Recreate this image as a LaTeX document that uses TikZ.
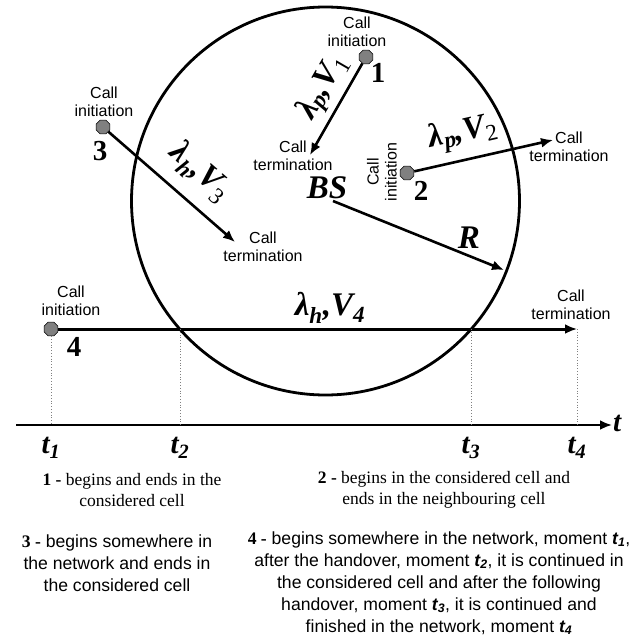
\documentclass[tikz,border=0pt]{standalone}
\usepackage{fontspec}
\setmainfont{Liberation Serif}
\setsansfont{Liberation Sans}
\usepackage{tikz}
\usetikzlibrary{arrows.meta, shapes.geometric}
\newcommand{\callfont}{\sffamily\fontsize{16}{18}\selectfont}
\newcommand{\bigit}{\bfseries\itshape\fontsize{33}{33}\selectfont}
\newcommand{\timeit}{\bfseries\itshape\fontsize{29}{29}\selectfont}
\newcommand{\bignum}{\bfseries\fontsize{29}{29}\selectfont}
\newcommand{\tsub}[1]{\textbf{\textit{t\textsubscript{#1}}}}

\begin{document}
\begin{tikzpicture}[x=1pt, y=-1pt,
			>={Latex[length=12pt, width=10pt]},   %Pfeilspitzen
			dot/.style={regular polygon, regular polygon sides=8, draw=black, fill=gray, minimum size=15pt, inner sep=0pt, line width=0.6pt},
			call/.style={font=\callfont, align=center, inner sep=0pt},
			lab/.style={font=\bigit, inner sep=0pt},
			tlab/.style={font=\timeit, inner sep=0pt},
			num/.style={font=\bignum, inner sep=0pt},
			ray/.style={->, line width=2.6pt},
			hilf/.style={dotted, gray, line width=0.8pt},
			desc/.style={align=center, inner sep=0pt}]
			\useasboundingbox (0,0) rectangle (640,637);
			% Zelle zeichnen
			\coordinate (m) at (325.5,201);
			\draw[line width=2.8pt] (m) circle (194pt);
			\node[lab] (bs) at (327,188) {BS};
			\coordinate (rs) at (333,201);
			\coordinate (rend) at (504,270);
			\draw[ray] (rs) -- (rend);
			\node[lab] (r) at (469,238) {R};
			% Gespraech 1
			\node[dot] (d1) at (366,57) {};
			\node[call] (i1) at (357,32) {Call\\initiation};
			\node[num] (n1) at (378,73) {1};
			\coordinate (e1) at (310,155);
			\node[call] (c1) at (293,156) {Call\\termination};
			\draw[ray] (d1) -- (e1);
			\node[lab, rotate=60] (l1) at (323,87) {λ\textsubscript{p},V\textsubscript{\normalfont 1}};
			% Gespraech 2
			\node[dot] (d2) at (407,173) {};
			\node[call, rotate=90] (i2) at (382,172) {Call\\initiation};
			\node[num] (n2) at (421,191) {2};
			\coordinate (e2) at (553,140);
			\node[call] (c2) at (569,147) {Call\\termination};
			\draw[ray] (d2) -- (e2);
			\node[lab, rotate=12.7] (l2) at (463,133) {λ\textsubscript{p},V\textsubscript{\normalfont 2}};
			% Gespraech 3
			\node[dot] (d3) at (103,127) {};
			\node[call] (i3) at (104,102) {Call\\initiation};
			\node[num] (n3) at (100,151) {3};
			\coordinate (e3) at (235,242);
			\node[call] (c3) at (263,247) {Call\\termination};
			\draw[ray] (d3) -- (e3);
			\node[lab, rotate=-41] (l3) at (200,172) {λ\textsubscript{h},V\textsubscript{\normalfont 3}};
			% Gespraech 4
			\node[dot] (d4) at (51,329) {};
			\node[call] (i4) at (71,301) {Call\\initiation};
			\node[num] (n4) at (74,347) {4};
			\coordinate (e4) at (577,329);
			\node[call] (c4) at (571,305) {Call\\termination};
			\draw[ray, line width=3pt] (d4) -- (e4);
			\node[lab] (l4) at (330,308) {λ\textsubscript{h},V\textsubscript{4}};
			% Zeitachse
			\coordinate (a0) at (16,425);
			\coordinate (a1) at (612,425);
			\draw[ray] (a0) -- (a1);
			\node[tlab, anchor=west] (tt) at (613,423) {t};
			\coordinate (x2) at (180,329);
			\coordinate (x3) at (471,329);
			\foreach \n/\x in {1/51,2/180,3/471,4/577} {
				\coordinate (p\n) at (\x,425);
				\node[tlab] (t\n) at (\x,448) {t\textsubscript{\n}};
			}
			\draw[hilf] (d4) -- (p1);
			\draw[hilf] (x2) -- (p2);
			\draw[hilf] (x3) -- (p3);
			\draw[hilf] (e4) -- (p4);
			% Beschreibung
			\node[desc, font=\fontsize{17.5}{21}\selectfont] (b1) at (132,490) {\textbf{1 -} begins and ends in the\\considered cell};
			\node[desc, font=\fontsize{17.5}{21}\selectfont] (b2) at (444,490) {\textbf{2 -} begins in the considered cell and\\ends in the neighbouring cell};
			\node[desc, font=\sffamily\fontsize{17.6}{22}\selectfont] (b3) at (117,563) {{\rmfamily\bfseries 3 -} begins somewhere in\\the network and ends in\\the considered cell};
			\node[desc, font=\sffamily\fontsize{17.6}{22}\selectfont] (b4) at (439,583) {{\rmfamily\bfseries 4 -} begins somewhere in the network, moment \tsub{1},\\after the handover, moment \tsub{2}, it is continued in\\the considered cell and after the following\\handover, moment \tsub{3}, it is continued and\\finished in the network, moment \tsub{4}};
		\end{tikzpicture}
\end{document}
